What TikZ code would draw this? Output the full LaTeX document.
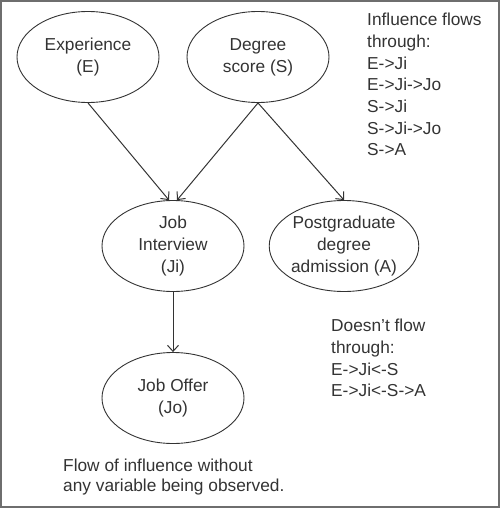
\documentclass[tikz,border=0pt]{standalone}
\usepackage{fontspec}
\setmainfont{Liberation Sans}
\usetikzlibrary{shapes.geometric,arrows.meta}
\definecolor{inkgray}{HTML}{333333}
\definecolor{framegray}{HTML}{6E6E6E}
\begin{document}
\begin{tikzpicture}[x=1pt,y=-1pt,
  every node/.style={font=\fontsize{17.3}{21.7}\selectfont,text=inkgray},
  var/.style={draw=inkgray,ellipse,line width=0.9pt,minimum width=142pt,minimum height=91pt,inner sep=0pt,align=center},
  flow/.style={draw=inkgray,line width=1pt,-{Straight Barb[length=6pt,width=11pt]}},
  note/.style={anchor=north west,align=left,inner sep=0pt}]
\useasboundingbox (0,0) rectangle (500,508);
\draw[framegray,line width=2pt] (1,1) rectangle (499,507);
\node[var] (E) at (88,57) {Experience\\(E)};
\node[var] (S) at (258,57) {Degree\\score (S)};
\node[var] (Ji) at (173,246) {Job\\Interview\\(Ji)};
\node[var] (A) at (344,246) {Postgraduate\\degree\\admission (A)};
\node[var] (Jo) at (173,398) {Job Offer\\(Jo)};
\draw[flow] (E.south) -- (Ji.95);
\draw[flow] (S.south) -- (Ji.85);
\draw[flow] (S.south) -- (A.north);
\draw[flow] (Ji.south) -- (Jo.north);
\node[note] (flows) at (367,13) {Influence flows\\through:\\E->Ji\\E->Ji->Jo\\S->Ji\\S->Ji->Jo\\S->A};
\node[note] (blocked) at (331,319) {Doesn't flow\\through:\\E->Ji<-S\\E->Ji<-S->A};
\node[note,font=\fontsize{17.3}{20}\selectfont] (caption) at (63,459) {Flow of influence without\\any variable being observed.};
\end{tikzpicture}
\end{document}
